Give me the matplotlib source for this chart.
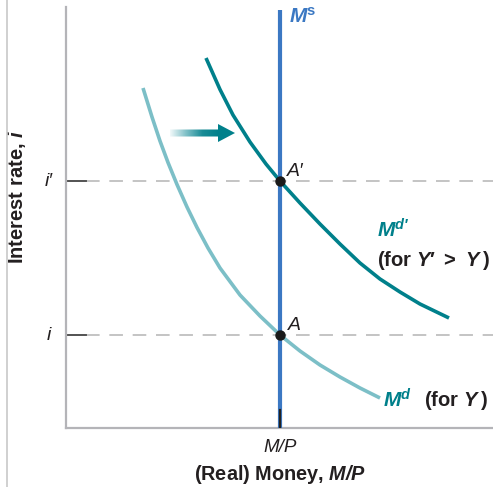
import matplotlib
matplotlib.use("Agg")
import matplotlib.pyplot as plt
import numpy as np
from matplotlib.patches import Polygon
from matplotlib.colors import LinearSegmentedColormap
from matplotlib.lines import Line2D

plt.rcParams['font.family'] = ['Liberation Sans', 'DejaVu Sans']
plt.rcParams['mathtext.fontset'] = 'custom'
plt.rcParams['mathtext.rm'] = 'Liberation Sans'
plt.rcParams['mathtext.it'] = 'Liberation Sans:italic'
plt.rcParams['mathtext.bf'] = 'Liberation Sans:bold'
plt.rcParams['mathtext.bfit'] = 'Liberation Sans:bold:italic'

# ---- data (chart units) ----
md_prime_x = [140, 154, 167, 184, 200, 214, 234, 254, 274, 294, 314, 334, 354, 383]
md_prime_y = [370, 338.5, 313, 286, 264, 247, 225, 204, 184, 165, 149, 136, 124, 110]
md_x = [77, 86, 94, 102, 111, 121, 131, 142, 154, 174, 194, 214, 234, 254, 274, 294, 314]
md_y = [340, 311, 287, 265.5, 243.5, 221, 200.5, 180, 160, 133, 112, 93, 77, 63, 51, 40, 30]
ms_x = 214
ms_top = 418
i_prime = 247
i_level = 93
ytick_labels = ["i\u2032", "i"]
xtick_label = "M/P"
arrow_start = (104, 295)
arrow_end = (169, 295)

XMAX, YMAX = 427, 421

W, H = 493, 487
fig = plt.figure(figsize=(W / 100, H / 100), dpi=100)
ax = fig.add_axes([66 / W, (H - 428) / H, 427 / W, 421 / H])
ax.set_xlim(0, XMAX)
ax.set_ylim(0, YMAX)
for s in ['top', 'right']:
    ax.spines[s].set_visible(False)
for s in ['left', 'bottom']:
    ax.spines[s].set_color('#b4b4b8')
    ax.spines[s].set_linewidth(1.6)
ax.set_xticks([])
ax.set_yticks([])

teal = '#00808b'
light = '#7cbfc7'
blue = '#3b78c3'
dark = '#231f20'

# dashed guide lines and short ticks
for lv in [i_prime, i_level]:
    ax.plot([20, XMAX], [lv, lv], color='#c4c4c4', lw=1.4, dashes=(7, 5), zorder=1)
    ax.plot([0, 20], [lv, lv], color='#444444', lw=1.3, zorder=2)
ax.plot([ms_x, ms_x], [0, 18], color='#222222', lw=1.6, zorder=4)

# curves
ax.plot(md_x, md_y, color=light, lw=2.6, solid_capstyle='butt', solid_joinstyle='round', zorder=2)
ax.plot(md_prime_x, md_prime_y, color=teal, lw=2.6, solid_capstyle='butt', solid_joinstyle='round', zorder=2)
ax.plot([ms_x, ms_x], [0, ms_top], color=blue, lw=3.0, solid_capstyle='butt', zorder=3)

# equilibrium points
ax.plot([ms_x, ms_x], [i_prime, i_level], 'o', color='#1a1a1a', ms=6.5, zorder=5)

# gradient arrow
x0, yc = arrow_start
x1, _ = arrow_end
hx = x1 - 17
poly = Polygon([(x0, yc - 3.5), (hx, yc - 3.5), (hx, yc - 9), (x1, yc),
                (hx, yc + 9), (hx, yc + 3.5), (x0, yc + 3.5)], closed=True,
               facecolor='none', edgecolor='none', transform=ax.transData)
ax.add_patch(poly)
cmap = LinearSegmentedColormap.from_list('g', ['#f2f9fa', '#7fc0c7', '#1a8c96', teal, teal])
grad = np.linspace(0, 1, 256).reshape(1, -1)
im = ax.imshow(grad, extent=[x0, x1, yc - 10, yc + 10], cmap=cmap, aspect='auto', zorder=4)
im.set_clip_path(poly)
ax.set_xlim(0, XMAX)
ax.set_ylim(0, YMAX)

# labels
ax.text(ms_x + 9, 411, r"$\mathbfit{M}^{\mathbf{s}}$", color=blue, fontsize=15, va='center', ha='left')
ax.text(ms_x + 7, 256, "A\u2032", fontstyle='italic', color=dark, fontsize=14, va='center', ha='left')
ax.text(ms_x + 8, 103, "A", fontstyle='italic', color=dark, fontsize=14, va='center', ha='left')

ax.text(311, 198, r"$\mathbfit{M}^{\mathbfit{d\prime}}$", color=teal, fontsize=15, va='center', ha='left')
ax.text(311, 167, r"(for $\mathbfit{Y}$" + "\u2032 \u2009>\u2009 " + r"$\mathbfit{Y}$" + "\u2009)",
        color=dark, fontsize=14.5, fontweight='bold', va='center', ha='left')

ax.text(317, 28, r"$\mathbfit{M}^{\mathbfit{d}}$", color=teal, fontsize=15, va='center', ha='left')
ax.text(358, 28, r"(for $\mathbfit{Y}$" + "\u2009)", color=dark, fontsize=14.5,
        fontweight='bold', va='center', ha='left')

for lv, lab in zip([i_prime, i_level], ytick_labels):
    ax.text(-17, lv, lab, fontsize=14, fontstyle='italic', color=dark, va='center', ha='center')
ax.text(ms_x, -20, xtick_label, fontsize=13.5, fontstyle='italic', color=dark, va='center', ha='center')
ax.text(ms_x, -47, r"(Real) Money, $\mathbfit{M/P}$", fontsize=14.3, fontweight='bold',
        color=dark, va='center', ha='center')
ax.text(-49, 231, r"Interest rate, $\mathbfit{i}$", fontsize=14.5, fontweight='bold',
        color=dark, va='center', ha='center', rotation=90)

fig.add_artist(Line2D([6.5 / W, 6.5 / W], [0, 1], color='#c8c8c8', lw=1.2,
                      transform=fig.transFigure))
for t in ax.texts:
    t.set_clip_on(False)

fig.savefig('out.png', dpi=100)
